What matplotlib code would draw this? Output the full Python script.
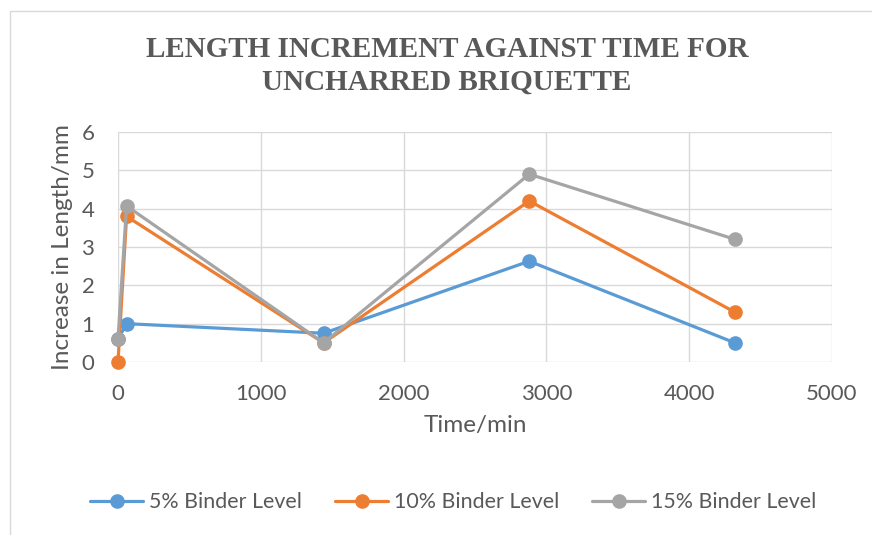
import matplotlib
matplotlib.use("Agg")
import matplotlib.pyplot as plt
from matplotlib.patches import Rectangle

# === Datos ===
time_min = [0, 60, 1440, 2880, 4320]
binder_5 = [0.6, 1.0, 0.75, 2.63, 0.5]
binder_10 = [0.0, 3.8, 0.5, 4.2, 1.3]
binder_15 = [0.6, 4.07, 0.5, 4.9, 3.2]
labels = ["5% Binder Level", "10% Binder Level", "15% Binder Level"]
colors = ["#5B9BD5", "#ED7D31", "#A5A5A5"]
x_ticks = [0, 1000, 2000, 3000, 4000, 5000]
y_ticks = [0, 1, 2, 3, 4, 5, 6]

txt = "#595959"
sans = ["Lato", "DejaVu Sans"]

fig = plt.figure(figsize=(8.72, 5.35), dpi=100)
# borde del area del grafico
fig.patches.append(Rectangle((10 / 872, -0.01), 1.0, 1 - 11 / 535 + 0.01,
                             transform=fig.transFigure, fill=False,
                             edgecolor="#D9D9D9", linewidth=1.0))

ax = fig.add_axes([118 / 872, 1 - 362 / 535, 714 / 872, 230 / 535])

for ys, lab, col in zip([binder_5, binder_10, binder_15], labels, colors):
    ax.plot(time_min, ys, color=col, linewidth=2.3, marker="o",
            markersize=9.5, label=lab, solid_capstyle="round", zorder=3,
            clip_on=False)

ax.set_xlim(0, 5000)
ax.set_ylim(0, 6)
ax.set_xticks(x_ticks)
ax.set_yticks(y_ticks)
ax.grid(True, color="#D9D9D9", linewidth=1.0)
ax.set_axisbelow(True)
for s in ax.spines.values():
    s.set_visible(False)
ax.tick_params(length=0, labelsize=16, labelcolor=txt)
for t in ax.get_xticklabels() + ax.get_yticklabels():
    t.set_family(sans)
ax.tick_params(axis="x", pad=16)
ax.tick_params(axis="y", pad=17)

ax.set_xlabel("Time/min", fontsize=17.5, color=txt, family=sans, labelpad=8)
ax.set_ylabel("Increase in Length/mm", fontsize=17.5, color=txt, family=sans, labelpad=6)

fig.text(447 / 872, 1 - 66 / 535,
         "LENGTH INCREMENT AGAINST TIME FOR\nUNCHARRED BRIQUETTE",
         ha="center", va="center", fontsize=21, fontweight="bold",
         color=txt, family=["Liberation Serif", "DejaVu Serif"], linespacing=1.25)

leg = fig.legend(loc="center", bbox_to_anchor=(453 / 872, 1 - 502 / 535),
                 ncol=3, frameon=False, handlelength=2.5, columnspacing=1.55,
                 handletextpad=0.25, prop={"family": sans, "size": 15.4})
for t in leg.get_texts():
    t.set_color(txt)

fig.savefig("out.png", dpi=100)
